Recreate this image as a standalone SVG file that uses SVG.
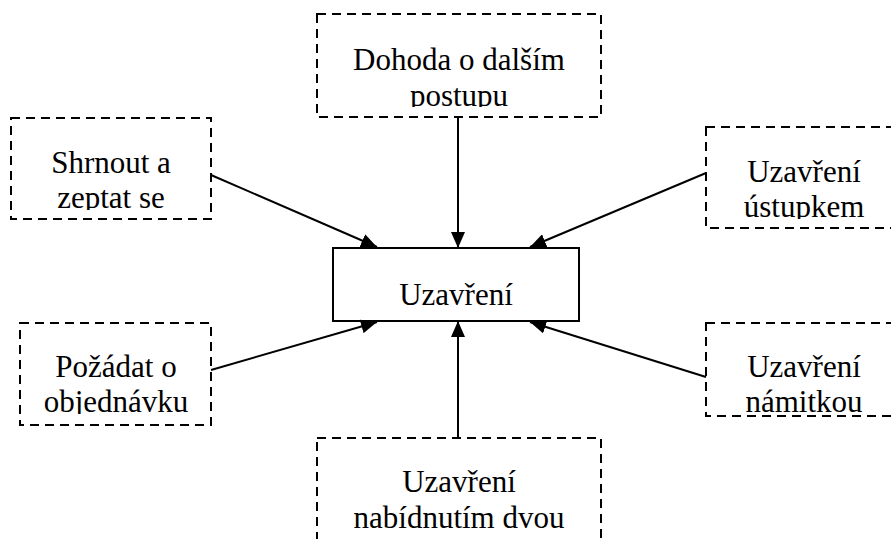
<svg xmlns="http://www.w3.org/2000/svg" width="891" height="539" viewBox="0 0 891 539">
<style>
.dbox{fill:#fff;stroke:#000;stroke-width:2;stroke-dasharray:9 6}
.sbox{fill:#fff;stroke:#000;stroke-width:2}
.t{font-family:"Liberation Serif","Times New Roman",serif;font-size:31px;fill:#000;text-anchor:middle}
.c{stroke:#000;stroke-width:2;fill:none;marker-end:url(#ah)}
</style>
<defs>
<marker id="ah" markerUnits="userSpaceOnUse" markerWidth="16" markerHeight="14" viewBox="0 0 16 14" refX="16" refY="7" orient="auto">
<path d="M0,0 L16,7 L0,14 Z" fill="#000"/>
</marker>
<clipPath id="c1"><rect x="317" y="14" width="284" height="93"/></clipPath>
<clipPath id="c2"><rect x="11" y="118" width="200" height="92"/></clipPath>
<clipPath id="c3"><rect x="706" y="127" width="196" height="92"/></clipPath>
<clipPath id="c4"><rect x="20" y="323" width="191" height="91"/></clipPath>
<clipPath id="c5"><rect x="706" y="323" width="196" height="91"/></clipPath>
<clipPath id="c6"><rect x="317" y="438" width="284" height="101"/></clipPath>
</defs>
<g id="node-dohoda">
<rect class="dbox" x="317" y="14" width="284" height="103"/>
<g clip-path="url(#c1)"><text class="t" x="459" y="70">Dohoda o dalším</text><text class="t" x="459" y="106">postupu</text></g>
</g>
<g id="node-shrnout">
<rect class="dbox" x="11" y="118" width="200" height="101"/>
<g clip-path="url(#c2)"><text class="t" x="111" y="173">Shrnout a</text><text class="t" x="111" y="208">zeptat se</text></g>
</g>
<g id="node-ustupkem">
<rect class="dbox" x="706" y="127" width="196" height="101"/>
<g clip-path="url(#c3)"><text class="t" x="804" y="182">Uzavření</text><text class="t" x="804" y="217">ústupkem</text></g>
</g>
<g id="node-pozadat">
<rect class="dbox" x="20" y="323" width="191" height="102"/>
<g clip-path="url(#c4)"><text class="t" x="116" y="377">Požádat o</text><text class="t" x="116" y="412">objednávku</text></g>
</g>
<g id="node-namitkou">
<rect class="dbox" x="706" y="323" width="196" height="93"/>
<g clip-path="url(#c5)"><text class="t" x="804" y="377">Uzavření</text><text class="t" x="804" y="412">námitkou</text></g>
</g>
<g id="node-dvou">
<rect class="dbox" x="317" y="438" width="284" height="120"/>
<g clip-path="url(#c6)"><text class="t" x="459" y="492">Uzavření</text><text class="t" x="459" y="528">nabídnutím dvou</text></g>
</g>
<g id="node-uzavreni">
<rect class="sbox" x="333" y="248" width="246" height="73"/>
<text class="t" x="456" y="305">Uzavření</text>
</g>
<g id="connectors">
<line class="c" x1="458" y1="117" x2="458" y2="248"/>
<line class="c" x1="458" y1="438" x2="458" y2="321"/>
<line class="c" x1="211" y1="175" x2="377" y2="247"/>
<line class="c" x1="706" y1="173" x2="530" y2="247"/>
<line class="c" x1="211" y1="370" x2="377" y2="322"/>
<line class="c" x1="706" y1="377" x2="530" y2="322"/>
</g>
</svg>
